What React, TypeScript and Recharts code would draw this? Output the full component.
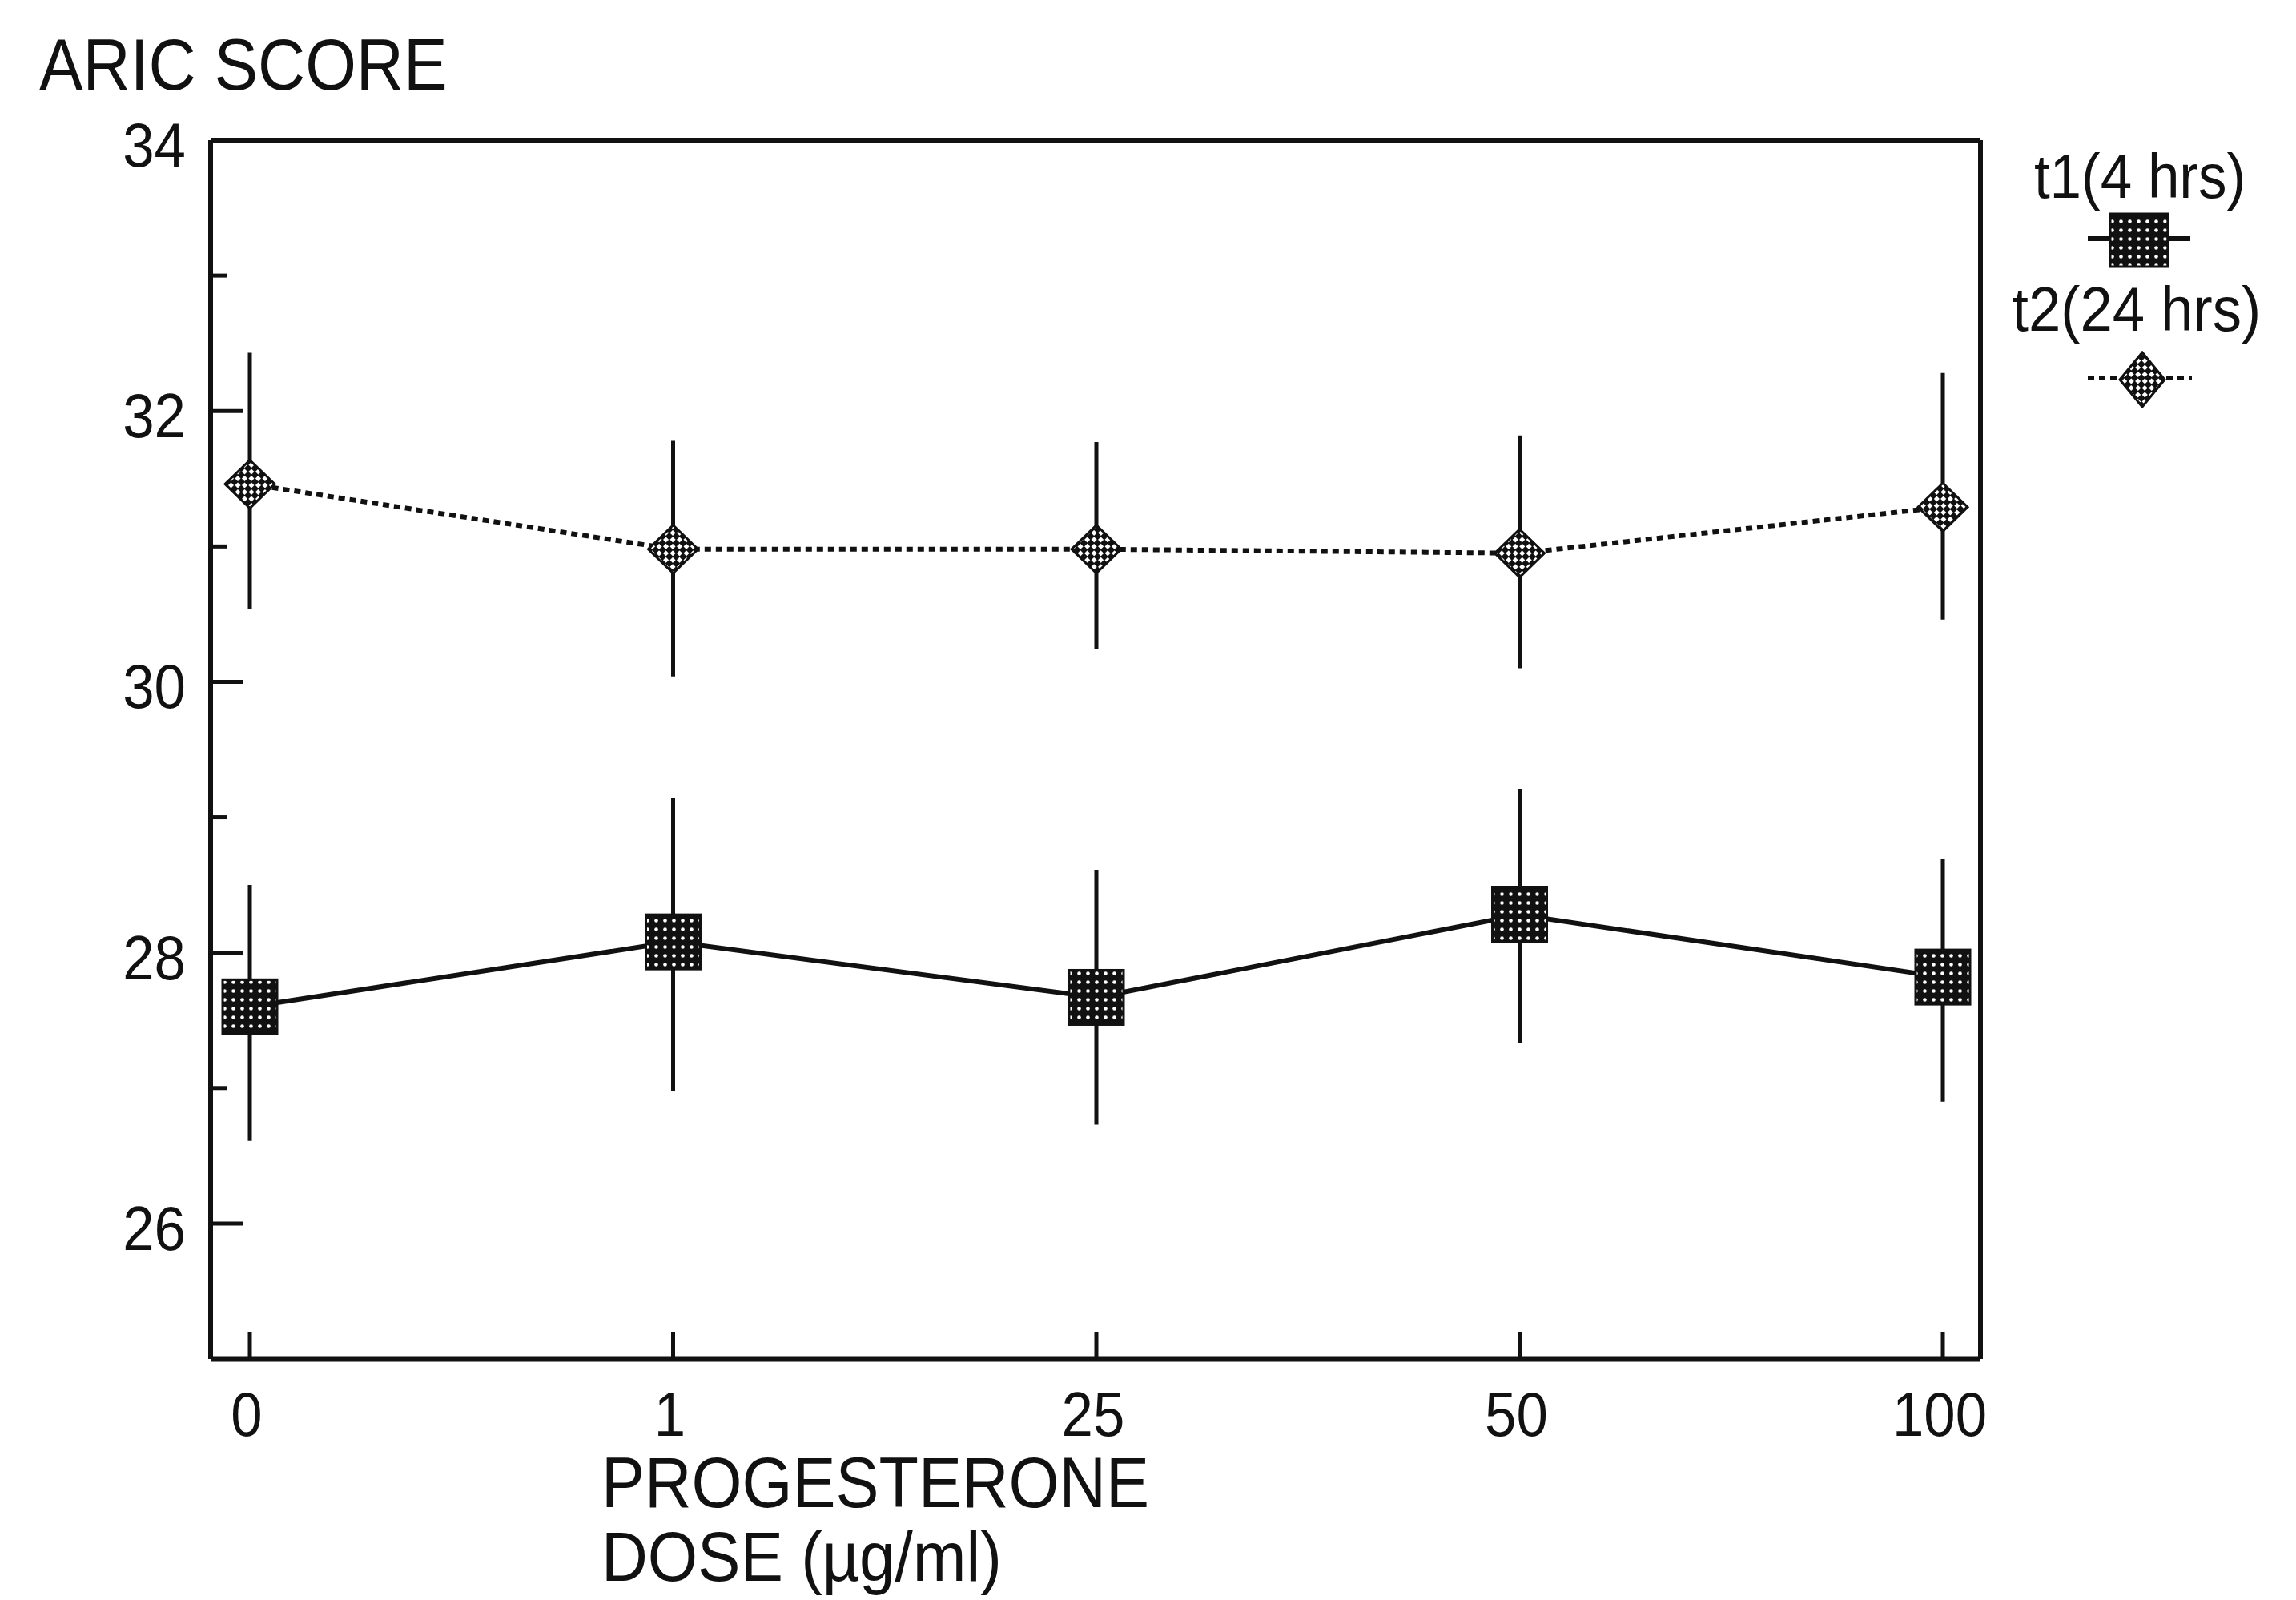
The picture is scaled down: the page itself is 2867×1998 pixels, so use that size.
import React from 'react';
import { LineChart, Line, XAxis, YAxis, ErrorBar, Legend } from 'recharts';

const doses = ['0', '1', '25', '50', '100'];
const t1Mean = [27.6, 28.08, 27.67, 28.28, 27.82];
const t1Upper = [28.5, 29.14, 28.61, 29.21, 28.69];
const t1Lower = [26.61, 26.98, 26.73, 27.33, 26.9];
const t2Mean = [31.46, 30.98, 30.98, 30.95, 31.29];
const t2Upper = [32.43, 31.78, 31.77, 31.82, 32.28];
const t2Lower = [30.54, 30.04, 30.24, 30.1, 30.46];
const yTicks = [26, 27, 28, 29, 30, 31, 32, 33, 34];
const yLabeled = [26, 28, 30, 32, 34];
const seriesNames = ['t1(4 hrs)', 't2(24 hrs)'];
const yTitle = 'ARIC SCORE';
const xTitle = ['PROGESTERONE', 'DOSE (\u00b5g/ml)'];

const data = doses.map((d, i) => ({
  dose: d,
  t1: t1Mean[i],
  t1Err: [t1Mean[i] - t1Lower[i], t1Upper[i] - t1Mean[i]],
  t2: t2Mean[i],
  t2Err: [t2Mean[i] - t2Lower[i], t2Upper[i] - t2Mean[i]],
}));

const FONT = '"Liberation Sans", Arial, Helvetica, sans-serif';
const INK = '#111';

const SquarePattern = ({ id }: { id: string }) => (
  <pattern id={id} width={11} height={11} patternUnits="userSpaceOnUse">
    <rect width={11} height={11} fill={INK} />
    <circle cx={5.5} cy={5.5} r={2.3} fill="#fff" />
  </pattern>
);

const DiamondPattern = ({ id }: { id: string }) => (
  <pattern id={id} width={12} height={12} patternUnits="userSpaceOnUse" patternTransform="rotate(45)">
    <rect width={12} height={12} fill={INK} />
    <rect x={0} y={0} width={5} height={5} fill="#fff" />
    <rect x={6} y={6} width={5} height={5} fill="#fff" />
  </pattern>
);

const SquareDot = (props: any) => {
  const { cx, cy, index } = props;
  const id = `sqp-${index}`;
  return (
    <g key={`sq-${index}`}>
      <defs>
        <SquarePattern id={id} />
      </defs>
      <rect x={cx - 34} y={cy - 34} width={68} height={68} fill={`url(#${id})`} stroke={INK} strokeWidth={3} />
    </g>
  );
};

const DiamondDot = (props: any) => {
  const { cx, cy, index } = props;
  const id = `dmp-${index}`;
  const w = 31;
  const h = 30;
  return (
    <g key={`dm-${index}`}>
      <defs>
        <DiamondPattern id={id} />
      </defs>
      <path
        d={`M${cx},${cy - h} L${cx + w},${cy} L${cx},${cy + h} L${cx - w},${cy} Z`}
        fill={`url(#${id})`}
        stroke={INK}
        strokeWidth={3}
      />
    </g>
  );
};

const YTick = (props: any) => {
  const { x, y, payload } = props;
  const v = payload.value;
  const major = yLabeled.includes(v);
  return (
    <g>
      <line x1={x} x2={x + (major ? 40 : 20)} y1={y} y2={y} stroke={INK} strokeWidth={5} />
      {major && (
        <text
          transform={`translate(${x - 31},${y + 33}) scale(0.92,1)`}
          textAnchor="end"
          fontSize={77}
          fontFamily={FONT}
          fill={INK}
        >
          {v}
        </text>
      )}
    </g>
  );
};

const XTick = (props: any) => {
  const { x, y, payload } = props;
  return (
    <g>
      <line x1={x} x2={x} y1={y} y2={y - 34} stroke={INK} strokeWidth={5} />
      <text
        transform={`translate(${x - 4},${y + 96}) scale(0.92,1)`}
        textAnchor="middle"
        fontSize={77}
        fontFamily={FONT}
        fill={INK}
      >
        {payload.value}
      </text>
    </g>
  );
};

const YTitle = () => (
  <text transform="translate(49,112) scale(0.91,1)" fontSize={90} fontFamily={FONT} fill={INK}>
    {yTitle}
  </text>
);

const XTitle = () => (
  <g>
    <text transform="translate(751,1882) scale(0.91,1)" fontSize={89} fontFamily={FONT} fill={INK}>
      {xTitle[0]}
    </text>
    <text transform="translate(751,1974) scale(0.91,1)" fontSize={88} fontFamily={FONT} fill={INK}>
      {xTitle[1]}
    </text>
  </g>
);

const LegendContent = () => (
  <svg width={367} height={420} style={{ overflow: 'visible', display: 'block' }}>
    <defs>
      <SquarePattern id="leg-sq" />
      <DiamondPattern id="leg-dm" />
    </defs>
    <text transform="translate(172,97) scale(0.91,1)" textAnchor="middle" fontSize={78} fontFamily={FONT} fill={INK}>
      {seriesNames[0]}
    </text>
    <line x1={107} x2={235} y1={148} y2={148} stroke={INK} strokeWidth={6} />
    <rect x={135} y={117} width={72} height={66} fill="url(#leg-sq)" stroke={INK} strokeWidth={3} />
    <text transform="translate(168,263) scale(0.93,1)" textAnchor="middle" fontSize={78} fontFamily={FONT} fill={INK}>
      {seriesNames[1]}
    </text>
    <line x1={107} x2={237} y1={322} y2={322} stroke={INK} strokeWidth={6} strokeDasharray="8 6" />
    <path d="M175,290 L203,324 L175,358 L147,324 Z" fill="url(#leg-dm)" stroke={INK} strokeWidth={3} />
  </svg>
);

export default function App() {
  return (
    <div style={{ position: 'absolute', left: 0, top: 0, width: 2867, height: 1998, background: '#fff' }}>
      <LineChart
        width={2867}
        height={1998}
        data={data}
        margin={{ top: 174, right: 393, bottom: 151, left: 113 }}
      >
        <XAxis
          dataKey="dose"
          type="category"
          interval={0}
          padding={{ left: 49, right: 47 }}
          height={150}
          tickSize={0}
          tickMargin={0}
          tickLine={false}
          axisLine={{ stroke: INK, strokeWidth: 7 }}
          tick={<XTick />}
          label={<XTitle />}
        />
        <XAxis
          xAxisId="top"
          dataKey="dose"
          orientation="top"
          type="category"
          interval={0}
          padding={{ left: 49, right: 47 }}
          height={1}
          tickSize={0}
          tick={false}
          tickLine={false}
          axisLine={{ stroke: INK, strokeWidth: 6 }}
        />
        <YAxis
          type="number"
          domain={[25, 34]}
          ticks={yTicks}
          interval={0}
          allowDataOverflow
          width={150}
          tickSize={0}
          tickMargin={0}
          tickLine={false}
          axisLine={{ stroke: INK, strokeWidth: 6 }}
          tick={<YTick />}
          label={<YTitle />}
        />
        <YAxis
          yAxisId="right"
          orientation="right"
          type="number"
          domain={[25, 34]}
          allowDataOverflow
          width={1}
          tickSize={0}
          tick={false}
          tickLine={false}
          axisLine={{ stroke: INK, strokeWidth: 6 }}
        />
        <Legend
          layout="horizontal"
          verticalAlign="middle"
          align="center"
          content={<LegendContent />}
          wrapperStyle={{ position: 'absolute', left: 2500, top: 150, width: 367, height: 420 }}
        />
        <Line
          name={seriesNames[0]}
          dataKey="t1"
          type="linear"
          stroke={INK}
          strokeWidth={6}
          dot={SquareDot}
          activeDot={false}
          isAnimationActive={false}
        >
          <ErrorBar dataKey="t1Err" direction="y" width={0} stroke={INK} strokeWidth={5} isAnimationActive={false} />
        </Line>
        <Line
          name={seriesNames[1]}
          dataKey="t2"
          type="linear"
          stroke={INK}
          strokeWidth={6}
          strokeDasharray="8 6"
          dot={DiamondDot}
          activeDot={false}
          isAnimationActive={false}
        >
          <ErrorBar dataKey="t2Err" direction="y" width={0} stroke={INK} strokeWidth={5} isAnimationActive={false} />
        </Line>
      </LineChart>
    </div>
  );
}
